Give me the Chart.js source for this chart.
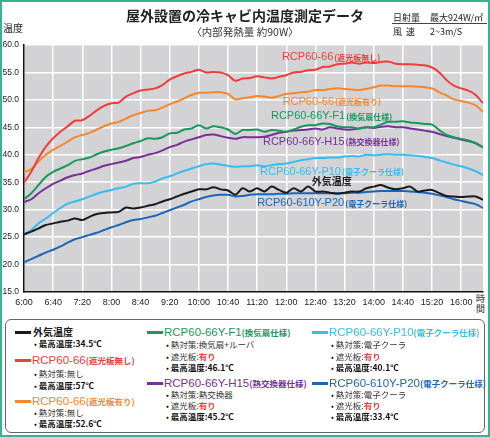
<!DOCTYPE html>
<html><head><meta charset="utf-8">
<script src="https://cdn.jsdelivr.net/npm/chart.js@4/dist/chart.umd.min.js"></script>
<style>
html,body{margin:0;padding:0;background:#fff;}
#wrap{position:relative;width:490px;height:437px;overflow:hidden;font-family:'Liberation Sans','Noto Sans CJK JP',sans-serif;color:#222;}
#frame{position:absolute;left:0;top:0;width:490px;height:437px;box-sizing:border-box;border:2px solid #36b48f;pointer-events:none;}
canvas{position:absolute;left:0;top:0;}
.abs{position:absolute;white-space:nowrap;}
.jp{font-family:'Noto Sans CJK JP',sans-serif;}
.lat{font-family:'Liberation Sans','Noto Sans CJK JP',sans-serif;}
#legbox{position:absolute;left:5px;top:319px;width:480px;height:114px;box-sizing:border-box;border:1px solid #666;border-radius:6px;}
.swatch{position:absolute;width:16px;height:3px;}
.hm{font-size:11.5px;}
.hs{font-size:8.5px;font-weight:700;font-family:'Noto Sans CJK JP',sans-serif;}
.dot{color:#111;}
.red{color:#ef3d3a;font-weight:700;}
</style></head>
<body>
<div id="wrap">
  <canvas id="c" width="490" height="318"></canvas>
  <div class="abs jp" style="left:0;width:490px;top:5px;text-align:center;font-size:14px;font-weight:700;line-height:20px;color:#222;">屋外設置の冷キャビ内温度測定データ</div>
  <div class="abs jp" style="left:0;width:490px;top:25px;text-align:center;font-size:10.5px;line-height:14px;color:#333;">〈内部発熱量 約90W〉</div>
  <div class="abs jp" style="left:393px;top:11px;font-size:9px;line-height:13px;color:#222;">日射量</div>
  <div class="abs jp" style="left:430px;top:11px;font-size:9px;line-height:13px;color:#222;">最大924W/㎡</div>
  <div class="abs" style="left:392px;top:23px;width:95px;height:1px;background:#444;"></div>
  <div class="abs jp" style="left:393px;top:25px;font-size:9px;line-height:13px;color:#222;">風&nbsp;&nbsp;速</div>
  <div class="abs jp" style="left:430px;top:25px;font-size:9px;line-height:13px;color:#222;">2~3m/S</div>
  <div class="abs jp" style="left:3px;top:21px;font-size:10px;line-height:14px;color:#222;">温度</div>
  <div class="abs jp" style="left:476px;top:294px;font-size:9px;line-height:10px;color:#222;">時<br>間</div>
  <div id="legbox"></div>
  <div id="legend"></div>
  <div id="frame"></div>
</div>
<script>
// ---- data ----
const times = ['6:00','6:10','6:20','6:30','6:40','6:50','7:00','7:10','7:20','7:30','7:40','7:50',
 '8:00','8:10','8:20','8:30','8:40','8:50','9:00','9:10','9:20','9:30','9:40','9:50',
 '10:00','10:10','10:20','10:30','10:40','10:50','11:00','11:10','11:20','11:30','11:40','11:50',
 '12:00','12:10','12:20','12:30','12:40','12:50','13:00','13:10','13:20','13:30','13:40','13:50',
 '14:00','14:10','14:20','14:30','14:40','14:50','15:00','15:10','15:20','15:30','15:40','15:50',
 '16:00','16:10','16:20','16:30'];
const xTickLabels = ['6:00','6:40','7:20','8:00','8:40','9:20','10:00','10:40','11:20','12:00','12:40','13:20','14:00','14:40','15:20','16:00'];
const yTickValues = [15,20,25,30,35,40,45,50,55,60];

const outdoor = [25.5,26.0,26.6,27.2,27.5,27.8,28.0,28.4,28.1,28.7,29.2,29.4,
 29.5,29.6,30.4,30.2,30.4,30.7,31.0,31.5,31.9,32.4,32.9,33.3,
 33.7,33.7,34.1,33.7,33.5,32.7,33.9,33.3,33.9,33.3,34.2,33.6,
 33.1,33.9,33.3,34.2,33.3,33.3,33.1,32.9,33.1,33.3,33.3,33.9,
 34.2,34.5,34.0,33.7,33.9,34.2,33.3,33.5,33.6,33.0,32.5,32.4,
 32.3,32.4,32.4,31.8];
const rcp66NoShade = [34.9,36.9,39.4,41.5,43.0,44.2,45.2,46.2,46.3,47.1,48.1,48.9,
 49.4,49.5,50.6,51.2,51.7,51.9,52.1,52.7,53.7,54.3,54.8,55.1,
 55.5,55.0,55.1,55.0,54.5,53.5,53.9,54.0,54.3,54.1,53.9,54.2,
 54.5,55.0,55.1,55.4,55.5,56.0,56.1,56.5,56.6,56.8,56.6,56.8,
 56.7,56.9,57.0,56.6,56.5,56.5,56.4,56.3,55.9,55.0,53.6,52.6,
 52.1,51.7,50.9,49.4];
const rcp66Shade = [36.8,37.4,38.8,40.0,40.9,41.6,42.4,43.2,43.6,44.0,44.6,45.2,
 45.7,46.0,46.6,47.2,47.6,48.0,48.1,48.6,49.2,49.7,50.3,50.9,
 51.3,51.3,51.4,51.4,51.1,50.1,50.3,50.5,50.7,50.6,50.4,50.7,
 51.1,51.2,51.4,51.5,51.8,51.8,52.0,52.1,52.0,51.9,51.8,52.0,
 52.3,52.6,52.6,52.5,52.5,52.5,52.4,52.3,52.1,51.4,50.8,50.1,
 49.8,49.5,49.0,47.8];
const rcpF1 = [31.9,33.0,34.5,36.0,36.9,37.5,38.1,38.9,39.2,39.5,40.1,40.6,
 40.9,41.2,41.6,42.1,42.5,43.0,42.9,43.2,43.9,44.0,44.6,44.8,
 45.4,44.8,45.2,45.0,44.6,43.8,44.5,44.5,44.6,44.2,44.5,44.4,
 44.2,44.6,45.1,45.4,45.4,45.7,45.6,45.2,45.0,45.0,44.8,45.0,
 45.0,45.5,46.0,46.0,46.1,45.9,45.8,45.6,45.5,44.5,43.6,43.2,
 42.9,42.6,42.1,41.3];
const rcpH15 = [31.4,31.9,33.0,33.9,34.7,35.3,35.9,36.3,36.6,37.1,37.5,38.0,
 38.3,38.6,38.9,39.4,39.6,40.0,40.3,40.8,41.4,41.8,42.4,42.8,
 43.2,43.6,43.7,43.4,43.1,42.9,43.2,43.2,43.2,43.3,43.6,44.0,
 44.2,44.4,44.5,44.6,44.8,44.6,45.0,44.8,44.6,44.6,44.8,45.0,
 44.9,45.1,45.2,45.0,45.0,44.8,44.6,44.4,44.2,43.8,43.4,43.1,
 42.8,42.5,42.1,41.4];
const rcpP10 = [25.5,26.3,27.5,28.4,29.4,30.3,31.1,31.5,31.9,32.4,32.9,33.3,
 33.6,33.9,34.2,34.7,34.8,34.8,35.1,35.7,36.1,36.6,37.1,37.5,
 37.9,38.3,38.4,38.2,38.0,37.8,37.9,37.9,38.1,37.9,38.1,38.3,
 38.4,38.7,39.0,39.2,39.4,39.4,39.5,39.5,39.7,39.8,39.7,40.0,
 39.9,40.0,40.1,40.0,40.0,39.9,39.8,39.6,39.4,39.0,38.6,38.2,
 37.9,37.5,37.0,36.3];
const rcpP20 = [20.4,21.0,21.6,22.2,22.7,23.3,24.0,24.6,25.0,25.4,25.8,26.3,
 26.8,27.2,27.7,28.1,28.3,28.6,28.9,29.4,29.9,30.4,30.9,31.5,
 31.9,32.3,32.6,32.7,32.7,32.4,32.5,32.7,32.8,32.8,32.8,32.9,
 32.9,33.0,33.0,33.0,33.0,33.0,33.0,33.0,33.0,33.1,33.1,33.2,
 33.3,33.4,33.4,33.4,33.4,33.3,33.2,33.1,32.9,32.6,32.3,31.9,
 31.6,31.3,31.0,30.3];

const seriesMain = ['外気温度','RCP60-66','RCP60-66','RCP60-66Y-F1','RCP60-66Y-H15','RCP60-66Y-P10','RCP60-610Y-P20'];
const seriesSub  = ['','(遮光板無し)','(遮光板有り)','(換気扇仕様)','(熱交換器仕様)','(電子クーラ仕様)','(電子クーラ仕様)'];
const heatMeasure = [null,'無し','無し','換気扇+ルーバ','熱交換器','電子クーラ','電子クーラ'];
const shadePlate  = [null,null,null,'有り','有り','有り','有り'];
const maxTemp     = ['34.5','57','52.6','46.1','45.2','40.1','33.4'];
const seriesValues = [outdoor, rcp66NoShade, rcp66Shade, rcpF1, rcpH15, rcpP10, rcpP20];

// ---- styles / layout ----
const colors = ['#1a1a1a','#ef3d3a','#f6862c','#17985c','#782f98','#35bdef','#1c66b8'];
const toMin = t => { const p = t.split(':').map(Number); return (p[0]-6)*60 + p[1]; };
const fmt = v => { const h = 6 + Math.floor(v/60), m = v%60; return h + ':' + (m<10?'0':'') + m; };
const LAT = "'Liberation Sans','Noto Sans CJK JP',sans-serif";
const JP = "'Noto Sans CJK JP',sans-serif";

// in-chart label anchors (data coordinates: minutes, °C)
const labelAnchors = [
  {i:0, x:395, y:35.1},
  {i:1, x:354, y:57.8},
  {i:2, x:355, y:49.7},
  {i:3, x:339, y:47.0},
  {i:4, x:328, y:42.4},
  {i:5, x:324, y:36.9},
  {i:6, x:320, y:31.2}
];

const bgPlugin = {
  id:'bg',
  beforeDraw(chart){
    const {ctx, chartArea:a} = chart;
    ctx.save(); ctx.fillStyle = '#d3d3d5';
    ctx.fillRect(a.left, a.top, a.right-a.left, a.bottom-a.top);
    ctx.restore();
  }
};
const labelPlugin = {
  id:'lbl',
  afterDatasetsDraw(chart){
    const {ctx, scales:{x, y}} = chart;
    ctx.save(); ctx.textBaseline = 'middle';
    labelAnchors.forEach(a => {
      const px = x.getPixelForValue(a.x), py = y.getPixelForValue(a.y);
      ctx.fillStyle = colors[a.i];
      if (a.i === 0) {
        ctx.font = 'bold 10px ' + JP;
        ctx.fillText(seriesMain[0], px, py);
      } else {
        ctx.font = '11px ' + LAT;
        ctx.fillText(seriesMain[a.i], px, py);
        const w = ctx.measureText(seriesMain[a.i]).width;
        ctx.font = 'bold 8px ' + JP;
        ctx.fillText(seriesSub[a.i], px + w + 1, py + 0.5);
      }
    });
    ctx.restore();
  }
};

const datasets = seriesValues.map((vals, i) => ({
  label: seriesMain[i] + seriesSub[i],
  data: vals.map((v, k) => ({x: toMin(times[k]), y: v})),
  borderColor: colors[i],
  borderWidth: 2,
  pointRadius: 0,
  tension: 0.3,
  fill: false
}));

new Chart(document.getElementById('c'), {
  type: 'line',
  data: { datasets },
  plugins: [bgPlugin, labelPlugin],
  options: {
    responsive: false,
    animation: false,
    layout: { padding: { top: 45, right: 7, left: 0, bottom: 0 } },
    plugins: { legend: { display: false }, tooltip: { enabled: false } },
    scales: {
      x: {
        type: 'linear', min: 0, max: 630,
        afterFit(s){ s.height = 26; },
        afterBuildTicks(s){ s.ticks = xTickLabels.map(t => ({value: toMin(t)})); },
        ticks: { callback: v => fmt(v), maxRotation: 0, autoSkip: false, padding: 5,
                 color: '#222', font: { size: 9, family: LAT } },
        grid: { color: '#ffffff', lineWidth: 1.5, drawTicks: false },
        border: { display: true, color: '#111', width: 1.5 }
      },
      y: {
        min: 15, max: 60,
        afterFit(s){ s.width = 24; },
        afterBuildTicks(s){ s.ticks = yTickValues.map(v => ({value: v})); },
        ticks: { callback: v => v.toFixed(1), padding: 5, color: '#222',
                 font: { size: 8.5, family: LAT } },
        grid: { color: '#ffffff', lineWidth: 1.5, drawTicks: false },
        border: { display: true, color: '#111', width: 1.5 }
      }
    }
  }
});

// ---- legend (HTML) ----
const legendPlaces = [
  {x:15,  y:332, rows:[344]},
  {x:15,  y:360, rows:[374,386]},
  {x:15,  y:401, rows:[413,424]},
  {x:147, y:332, rows:[345,357,368]},
  {x:147, y:383, rows:[395,406,417]},
  {x:312, y:332, rows:[345,357,368]},
  {x:312, y:383, rows:[395,406,417]}
];
const leg = document.getElementById('legend');
function addDiv(html, cls, x, yc, size, color){
  const d = document.createElement('div');
  d.className = 'abs ' + cls;
  d.style.left = x + 'px';
  d.style.top = (yc - size*0.7) + 'px';
  d.style.fontSize = size + 'px';
  d.style.lineHeight = (size*1.4) + 'px';
  d.style.color = color;
  d.innerHTML = html; leg.appendChild(d); return d;
}
legendPlaces.forEach((p, i) => {
  const sw = document.createElement('div');
  sw.className = 'swatch';
  sw.style.left = p.x + 'px';
  sw.style.top = (p.y - 1.5) + 'px';
  sw.style.background = colors[i];
  leg.appendChild(sw);
  if (i === 0) {
    const d = addDiv(seriesMain[0], 'jp', p.x + 18, p.y, 10, colors[0]);
    d.style.fontWeight = '700';
  } else {
    addDiv('<span class="hm">' + seriesMain[i] + '</span><span class="hs">' + seriesSub[i] + '</span>',
      'lat', p.x + 17, p.y, 11.5, colors[i]);
  }
  const rows = [];
  if (heatMeasure[i]) rows.push('<span class="dot">•</span> 熱対策:' + heatMeasure[i]);
  if (shadePlate[i]) rows.push('<span class="dot">•</span> 遮光板:<span class="red">' + shadePlate[i] + '</span>');
  rows.push('<span class="dot">•</span> <b style="color:#111">最高温度:' + maxTemp[i] + '℃</b>');
  rows.forEach((r, k) => {
    addDiv(r, 'jp', p.x + 19, p.rows[k], 8.5, '#333');
  });
});
</script>
</body></html>
